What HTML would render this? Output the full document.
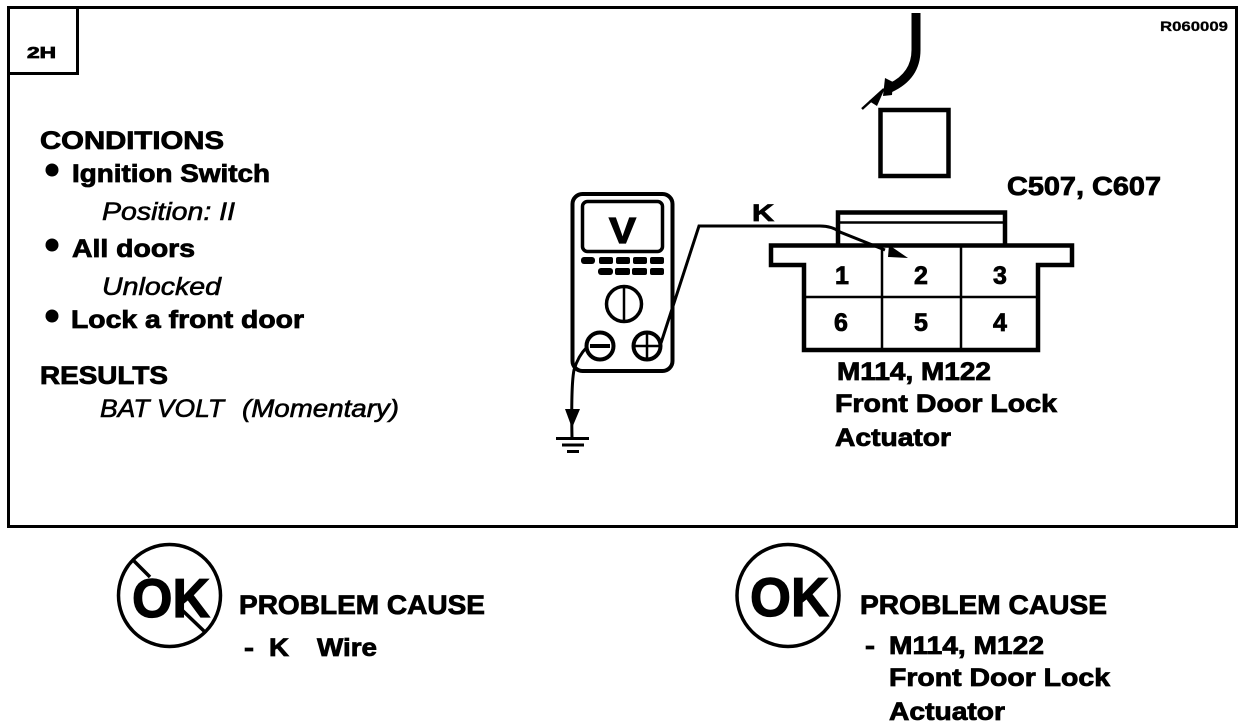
<!DOCTYPE html>
<html><head><meta charset="utf-8"><style>
html,body{margin:0;padding:0;background:#fff}svg{display:block}
text{font-family:"Liberation Sans",sans-serif;font-weight:bold;fill:#000;stroke:#000;stroke-width:.8}
.i{font-style:italic;font-weight:normal;stroke-width:.6}
</style></head><body>
<svg width="1248" height="726" viewBox="0 0 1248 726" xmlns="http://www.w3.org/2000/svg">
<g fill="none" stroke="#000" stroke-width="3">
<rect x="8.5" y="7.500" width="1228" height="519" stroke-width="3"/>
<path d="M9 73.500H77.500V8"/>
<!-- meter -->
<rect x="572.500" y="194" width="100" height="177" rx="10" stroke-width="4"/>
<rect x="582.500" y="201.500" width="80" height="50" rx="5" stroke-width="3.500"/>
<circle cx="624" cy="304" r="17.500" stroke-width="3.500"/>
<path d="M624 287V321" stroke-width="2.500"/>
<circle cx="600" cy="346" r="13.500" stroke-width="4"/>
<path d="M590 346H610" stroke-width="4"/>
<circle cx="647" cy="346" r="13.500" stroke-width="4"/>
<path d="M634 346H660M647 333V359" stroke-width="2.500"/>
<!-- wires -->
<path d="M661 343L699 226H820Q832 226 840 232L885 250" stroke-width="3"/>
<path d="M587 347Q578 356 574 370Q571 385 572 438" stroke-width="3"/>
<path d="M556 438.500H589" stroke-width="3"/>
<path d="M562 445H584" stroke-width="3"/>
<path d="M567 451.500H579" stroke-width="3"/>
<!-- top harness -->
<path d="M916 13V50Q916 76 890 88" stroke-width="9"/>
<path d="M862 109L884 89" stroke-width="2.500"/>
<rect x="880.500" y="110" width="68" height="66" stroke-width="4.500"/>
<!-- connector -->
<path d="M838 245V212.500H1005V245" stroke-width="4.500"/>
<path d="M838 222.500H1005" stroke-width="2.500"/>
<path d="M804 265H771V245.500H1072V265H1038V350H804Z" stroke-width="4.500"/>
<path d="M882 246V350M961 246V350M804 297H1038" stroke-width="2.500"/>
<!-- crossed OK -->
<circle cx="169.500" cy="595.500" r="51" stroke-width="3.500"/>
<path d="M133 560L150 577M182 610L205 632" stroke-width="3.500"/>
<circle cx="788" cy="595.500" r="51" stroke-width="3.500"/>
</g>
<g fill="#000">
<path d="M565 409H580L572 428Z"/>
<path d="M889 245L908 258L888 257Z"/>
<path d="M869 101L885 88L877 106Z"/>
<path d="M885 78L893 82L892 95L883 96Z"/>
<g>
<rect x="581" y="257" width="14" height="7" rx="3"/><rect x="599" y="257" width="14" height="7" rx="2"/><rect x="616" y="257" width="14" height="7" rx="2"/><rect x="633" y="257" width="14" height="7" rx="2"/><rect x="650" y="257" width="14" height="7" rx="2"/>
<rect x="598" y="268" width="15" height="7" rx="3"/><rect x="615" y="268" width="15" height="7" rx="2"/><rect x="632" y="268" width="15" height="7" rx="2"/><rect x="650" y="268" width="14" height="7" rx="2"/>
</g>
<circle cx="52" cy="170" r="6.500"/><circle cx="52" cy="245" r="6.500"/><circle cx="52" cy="316" r="6.500"/>
</g>
<!-- text -->
<text x="27" y="58" font-size="16" textLength="29" lengthAdjust="spacingAndGlyphs">2H</text>
<text x="1160" y="31" font-size="14" textLength="68" lengthAdjust="spacingAndGlyphs" style="stroke-width:.3">R060009</text>
<text x="40" y="149" font-size="25" textLength="184" lengthAdjust="spacingAndGlyphs">CONDITIONS</text>
<text x="72" y="182" font-size="25" textLength="198" lengthAdjust="spacingAndGlyphs">Ignition Switch</text>
<text x="102" y="220" font-size="25" class="i" textLength="133" lengthAdjust="spacingAndGlyphs">Position: II</text>
<text x="72" y="257" font-size="25" textLength="123" lengthAdjust="spacingAndGlyphs">All doors</text>
<text x="102" y="295" font-size="25" class="i" textLength="119" lengthAdjust="spacingAndGlyphs">Unlocked</text>
<text x="71" y="328" font-size="25" textLength="233" lengthAdjust="spacingAndGlyphs">Lock a front door</text>
<text x="40" y="384" font-size="25" textLength="128" lengthAdjust="spacingAndGlyphs">RESULTS</text>
<text x="100" y="417" font-size="25" class="i" textLength="124" lengthAdjust="spacingAndGlyphs">BAT VOLT</text>
<text x="242" y="417" font-size="25" class="i" textLength="157" lengthAdjust="spacingAndGlyphs">(Momentary)</text>
<text x="609" y="243" font-size="36" textLength="27" lengthAdjust="spacingAndGlyphs" style="stroke-width:1.2">V</text>
<text x="752" y="221" font-size="24" textLength="22" lengthAdjust="spacingAndGlyphs">K</text>
<text x="1007" y="195" font-size="26" textLength="154" lengthAdjust="spacingAndGlyphs">C507, C607</text>
<g font-size="25" text-anchor="middle">
<text x="842" y="284">1</text><text x="921" y="284">2</text><text x="1000" y="284">3</text>
<text x="841" y="331">6</text><text x="921" y="331">5</text><text x="1000" y="331">4</text>
</g>
<text x="837" y="380" font-size="25" textLength="154" lengthAdjust="spacingAndGlyphs">M114, M122</text>
<text x="835" y="412" font-size="25" textLength="222" lengthAdjust="spacingAndGlyphs">Front Door Lock</text>
<text x="835" y="446" font-size="25" textLength="116" lengthAdjust="spacingAndGlyphs">Actuator</text>
<!-- OK symbols -->
<text x="132" y="617" font-size="55" textLength="78" lengthAdjust="spacingAndGlyphs" style="stroke-width:1.200">OK</text>
<text x="239" y="614" font-size="27" textLength="246" lengthAdjust="spacingAndGlyphs">PROBLEM CAUSE</text>
<text x="244" y="656" font-size="25" textLength="10" lengthAdjust="spacingAndGlyphs">-</text>
<text x="269" y="656" font-size="25" textLength="20" lengthAdjust="spacingAndGlyphs">K</text>
<text x="317" y="656" font-size="25" textLength="60" lengthAdjust="spacingAndGlyphs">Wire</text>
<text x="750" y="616" font-size="55" textLength="79" lengthAdjust="spacingAndGlyphs" style="stroke-width:1.200">OK</text>
<text x="860" y="614" font-size="27" textLength="247" lengthAdjust="spacingAndGlyphs">PROBLEM CAUSE</text>
<text x="865" y="654" font-size="25" textLength="10" lengthAdjust="spacingAndGlyphs">-</text>
<text x="889" y="654" font-size="25" textLength="155" lengthAdjust="spacingAndGlyphs">M114, M122</text>
<text x="889" y="686" font-size="25" textLength="221" lengthAdjust="spacingAndGlyphs">Front Door Lock</text>
<text x="889" y="720" font-size="25" textLength="116" lengthAdjust="spacingAndGlyphs">Actuator</text>
</svg>
</body></html>
